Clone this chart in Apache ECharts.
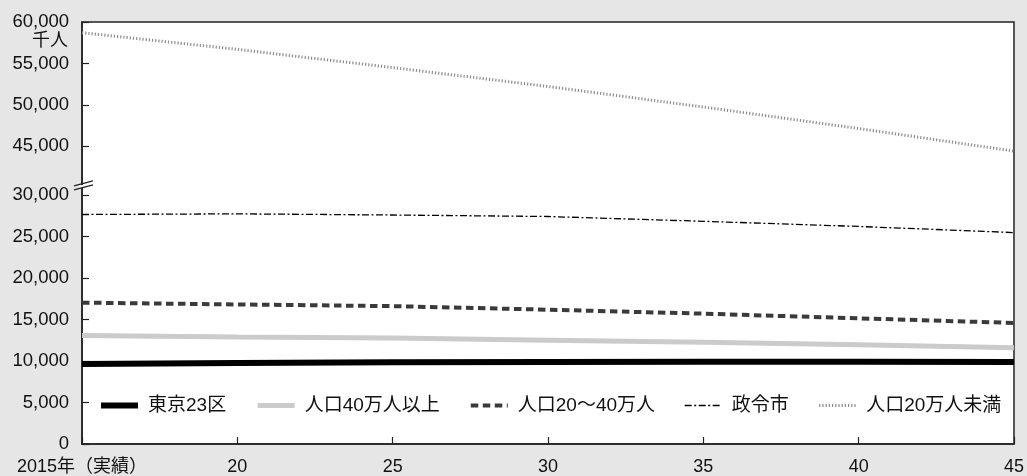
<!DOCTYPE html>
<html>
<head>
<meta charset="utf-8">
<script src="https://cdn.jsdelivr.net/npm/echarts@6/dist/echarts.min.js"></script>
<style>
html,body{margin:0;padding:0;background:#e6e6e6;}
#c{width:1027px;height:476px;}
</style>
</head>
<body>
<div id="c"></div>
<script>
// ---- data (thousand persons) ----
const years = [2015, 2020, 2025, 2030, 2035, 2040, 2045];
const seriesNames = ['東京23区', '人口40万人以上', '人口20〜40万人', '政令市', '人口20万人未満'];
const tokyo23 = [9640, 9780, 9860, 9900, 9910, 9910, 9900];
const pop40plus = [13080, 12920, 12780, 12520, 12260, 11960, 11600];
const pop20to40 = [17050, 16830, 16630, 16200, 15720, 15160, 14600];
const designated = [27680, 27760, 27620, 27440, 26860, 26240, 25500];
const under20 = [58710, 56700, 54500, 52220, 49750, 47150, 44430];
const yTickLabels = [0, 5000, 10000, 15000, 20000, 25000, 30000, 45000, 50000, 55000, 60000];
const unitLabel = '千人';

// ---- broken axis mapping: values above the break are shifted down ----
const BREAK_LOW = 30000, BREAK_MID = 37000, SHIFT = 9100;
const tf = v => v > BREAK_MID ? v - SHIFT : v;
const inv = d => d > BREAK_LOW + 1 ? d + SHIFT : d;
const fmt = v => Math.round(v).toLocaleString('en-US');

const FONT = '"Liberation Sans", "Noto Sans CJK JP", sans-serif';
const chart = echarts.init(document.getElementById('c'), null, {renderer: 'canvas'});

const styles = [
  {color: '#000000', width: 6, type: 'solid'},
  {color: '#cbcbcb', width: 5, type: 'solid'},
  {color: '#3a3a3a', width: 4, type: [7.5, 4.5]},
  {color: '#000000', width: 1.3, type: [7, 2.5, 2, 2.5]},
  {color: '#8c8c8c', width: 3, type: [1.2, 2]}
];
const allData = [tokyo23, pop40plus, pop20to40, designated, under20];

const tickVals = yTickLabels.map(tf);

chart.setOption({
  backgroundColor: '#e6e6e6',
  animation: false,
  textStyle: {fontFamily: FONT},
  grid: {left: 82, right: 11, top: 22, bottom: 32, show: true, backgroundColor: '#ffffff', borderColor: '#222', borderWidth: 1.5},
  legend: {
    left: 98, top: 396, padding: 0,
    itemWidth: 37, itemHeight: 14, itemGap: 29,
    itemStyle: {opacity: 0},
    lineStyle: {width: 'inherit'},
    textStyle: {fontSize: 19, color: '#111', fontFamily: FONT, padding: [0, 0, 0, 5]},
    data: seriesNames
  },
  xAxis: {
    type: 'value', min: 2015, max: 2045, interval: 5,
    axisLine: {lineStyle: {color: '#222', width: 1.5}},
    axisTick: {inside: true, length: 7, lineStyle: {color: '#222', width: 1.2}},
    splitLine: {show: false},
    axisLabel: {
      fontSize: 18, color: '#111', margin: 14, fontFamily: FONT, showMaxLabel: true, showMinLabel: true,
      formatter: v => v === 2015 ? '2015年（実績）' : String(v - 2000)
    }
  },
  yAxis: {
    type: 'value', min: 0, max: tf(60000),
    axisLine: {show: true, lineStyle: {color: '#222', width: 1.5}},
    axisTick: {show: true, inside: true, length: 7, lineStyle: {color: '#222', width: 1.2}, customValues: tickVals},
    splitLine: {show: false},
    axisLabel: {fontSize: 18.5, color: '#111', margin: 13, fontFamily: FONT, customValues: tickVals, formatter: v => fmt(inv(v))}
  },
  series: seriesNames.map((n, i) => ({
    name: n, type: 'line', showSymbol: false, symbol: 'none',
    color: styles[i].color,
    lineStyle: {color: styles[i].color, width: styles[i].width, type: styles[i].type, cap: 'butt'},
    data: years.map((y, k) => [y, tf(allData[i][k])]),
    z: 10 - i
  }))
});

// unit label and axis-break mark
const yb = chart.convertToPixel({yAxisIndex: 0}, BREAK_LOW + 1450);
const y60 = chart.convertToPixel({yAxisIndex: 0}, tf(60000));
const ax = chart.convertToPixel({xAxisIndex: 0}, 2015);
chart.setOption({
  graphic: [
    {type: 'text', left: 32, top: y60 + 10, style: {text: unitLabel, font: '18px ' + FONT, fill: '#111'}},
    {type: 'polygon', shape: {points: [[ax - 3, yb + 2.5], [ax + 3, yb + 1], [ax + 3, yb + 4], [ax - 3, yb + 5.5]]}, style: {fill: '#ffffff'}, z: 100},
    {type: 'line', shape: {x1: ax - 8, y1: yb + 2.5, x2: ax + 11, y2: yb - 2.5}, style: {stroke: '#222', lineWidth: 1.3}, z: 101},
    {type: 'line', shape: {x1: ax - 8, y1: yb + 6.5, x2: ax + 11, y2: yb + 1.5}, style: {stroke: '#222', lineWidth: 1.3}, z: 101}
  ]
});
</script>
</body>
</html>
